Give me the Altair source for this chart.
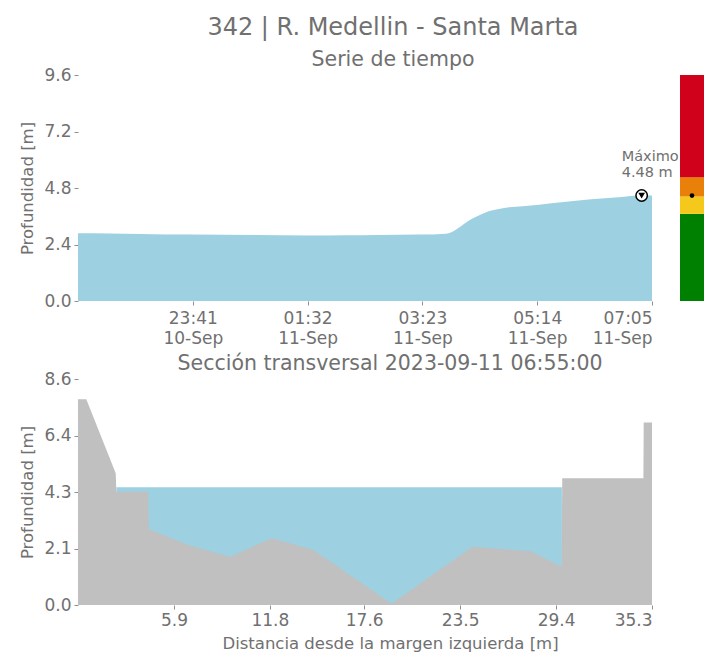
import altair as alt
import pandas as pd

# ---------------- data ----------------
MAIN_TITLE = "342 | R. Medellin - Santa Marta"
TS_TITLE = "Serie de tiempo"
XS_TITLE = "Sección transversal 2023-09-11 06:55:00"

ts_time = [
    "2023-09-10T21:50:00Z", "2023-09-10T22:20:00Z", "2023-09-10T22:50:00Z",
    "2023-09-10T23:40:00Z", "2023-09-11T00:40:00Z", "2023-09-11T01:33:00Z",
    "2023-09-11T02:10:00Z", "2023-09-11T02:41:00Z", "2023-09-11T03:20:00Z",
    "2023-09-11T03:46:00Z", "2023-09-11T03:51:00Z", "2023-09-11T03:56:00Z",
    "2023-09-11T04:01:00Z", "2023-09-11T04:06:00Z", "2023-09-11T04:11:00Z",
    "2023-09-11T04:19:00Z", "2023-09-11T04:27:00Z", "2023-09-11T04:37:00Z",
    "2023-09-11T04:47:00Z", "2023-09-11T05:00:00Z", "2023-09-11T05:16:00Z",
    "2023-09-11T05:35:00Z", "2023-09-11T05:54:00Z", "2023-09-11T06:13:00Z",
    "2023-09-11T06:33:00Z", "2023-09-11T06:55:00Z", "2023-09-11T07:05:00Z",
]
ts_depth = [
    2.88, 2.87, 2.85, 2.82, 2.80, 2.78, 2.79, 2.80, 2.82,
    2.86, 2.92, 3.05, 3.20, 3.36, 3.49, 3.66, 3.81, 3.91,
    3.98, 4.03, 4.09, 4.18, 4.27, 4.34, 4.41, 4.48, 4.48,
]

max_time = ["2023-09-11T06:55:00Z"]
max_value = [4.48]
max_label = ["Máximo\n4.48 m"]

level_names = ["verde", "amarillo", "naranja", "rojo"]
level_low = [0.0, 3.70, 4.44, 5.26]
level_high = [3.70, 4.44, 5.26, 9.6]
level_colors = ["#008000", "#f5c91c", "#e8800a", "#d0011b"]
current_level = [4.48]

terrain_dist = [0.0, 0.51, 2.32, 2.36, 4.32, 4.36, 6.78, 9.35, 11.92, 14.49,
                19.28, 24.25, 27.85, 29.74, 29.78, 34.77, 34.79, 35.3]
terrain_z = [7.83, 7.83, 5.01, 4.31, 4.31, 2.88, 2.28, 1.84, 2.54, 2.09,
             0.05, 2.22, 2.05, 1.46, 4.82, 4.82, 6.94, 6.94]
water_dist = [2.36, 29.76]
water_z = [4.48, 4.48]

ts_ticks = [(2023, 9, 10, 23, 41), (2023, 9, 11, 1, 32), (2023, 9, 11, 3, 23),
            (2023, 9, 11, 5, 14), (2023, 9, 11, 7, 5)]
ts_domain = [(2023, 9, 10, 21, 50), (2023, 9, 11, 7, 5)]
ts_yticks = [0.0, 2.4, 4.8, 7.2, 9.6]
xs_xticks = [5.9, 11.8, 17.6, 23.5, 29.4, 35.3]
xs_yticks = [0.0, 2.15, 4.3, 6.45, 8.6]

# ---------------- style ----------------
FONT = "DejaVu Sans"
TXT = "#707070"
BLUE = "#9dd0e0"
GRAY = "#c0c0c0"
W, H = 574, 226


def dt(t):
    return alt.DateTime(year=t[0], month=t[1], date=t[2], hours=t[3], minutes=t[4], utc=True)


ts_df = pd.DataFrame({"t": ts_time, "d": ts_depth})
max_df = pd.DataFrame({"t": max_time, "d": max_value, "lab": max_label})
lvl_df = pd.DataFrame({"nivel": level_names, "lo": level_low, "hi": level_high, "st": "s"})
cur_df = pd.DataFrame({"d": current_level, "st": "s"})
ter_df = pd.DataFrame({"x": terrain_dist, "z": terrain_z})
wat_df = pd.DataFrame({"x": water_dist, "z": water_z})

x_ts = alt.X(
    "t:T",
    scale=alt.Scale(type="utc", domain=[dt(v) for v in ts_domain], nice=False),
    axis=alt.Axis(
        values=[dt(v) for v in ts_ticks],
        labelExpr="[utcFormat(datum.value, '%H:%M'), utcFormat(datum.value, '%d-%b')]",
        title=None,
        labelLineHeight=20,
        labelPadding=5,
    ),
)
y_ts = alt.Y(
    "d:Q",
    scale=alt.Scale(domain=[0, 9.6], nice=False),
    axis=alt.Axis(values=ts_yticks, format=".1f", title="Profundidad [m]"),
)

ts_area = alt.Chart(ts_df).mark_area(color=BLUE, interpolate="monotone").encode(x=x_ts, y=y_ts)
ts_circ = alt.Chart(max_df).mark_point(
    shape="circle", filled=True, fill="white", stroke="black", strokeWidth=1.5,
    size=130, opacity=1,
).encode(x="t:T", y="d:Q")
ts_tri = alt.Chart(max_df).mark_point(
    shape="triangle-down", filled=True, color="black", size=45, opacity=1
).encode(x="t:T", y="d:Q")
ts_txt = alt.Chart(max_df).mark_text(
    align="left", baseline="bottom", dx=-20, dy=-32, fontSize=14.5, color=TXT,
    lineBreak="\n", lineHeight=16, font=FONT,
).encode(x="t:T", y="d:Q", text="lab:N")

ts_chart = alt.layer(ts_area, ts_circ, ts_tri, ts_txt).properties(width=W, height=H)

bar_rect = alt.Chart(lvl_df).mark_rect().encode(
    x=alt.X("st:N", axis=None, scale=alt.Scale(paddingInner=0, paddingOuter=0)),
    y=alt.Y("lo:Q", axis=None, scale=alt.Scale(domain=[0, 9.6], nice=False)),
    y2="hi:Q",
    color=alt.Color("nivel:N", scale=alt.Scale(domain=level_names, range=level_colors), legend=None),
)
bar_dot = alt.Chart(cur_df).mark_point(filled=True, color="black", size=22, opacity=1).encode(
    x=alt.X("st:N", axis=None),
    y=alt.Y("d:Q", axis=None),
)
bar_chart = alt.layer(bar_rect, bar_dot).properties(width=24, height=H)

x_xs = alt.X(
    "x:Q",
    scale=alt.Scale(domain=[0, 35.3], nice=False, zero=False),
    axis=alt.Axis(values=xs_xticks, format=".1f",
                  title="Distancia desde la margen izquierda [m]", titleX=312,
                  titlePadding=7),
)
y_xs = alt.Y(
    "z:Q",
    scale=alt.Scale(domain=[0, 8.6], nice=False),
    axis=alt.Axis(values=xs_yticks, labelExpr="format(floor(datum.value*10+0.001)/10, '.1f')",
                  title="Profundidad [m]"),
)
xs_water = alt.Chart(wat_df).mark_area(color=BLUE).encode(x=x_xs, y=y_xs)
xs_ter = alt.Chart(ter_df).mark_area(color=GRAY, opacity=1).encode(x=x_xs, y=y_xs)
xs_chart = alt.layer(xs_water, xs_ter).properties(
    width=W, height=H,
    title=alt.TitleParams(XS_TITLE, fontSize=20.5, dx=25, offset=-4, anchor="middle",
                          color=TXT, font=FONT, fontWeight="normal", frame="group"),
)

chart = alt.concat(
    ts_chart, bar_chart, xs_chart, columns=2,
    spacing={"row": 78, "column": 28}, bounds="flush",
).properties(
    padding={"left": 11, "top": 8, "right": 5, "bottom": 2},
    title=alt.TitleParams(
        MAIN_TITLE, subtitle=TS_TITLE, fontSize=24, subtitleFontSize=20.5,
        color=TXT, subtitleColor=TXT, font=FONT, subtitleFont=FONT,
        fontWeight="normal", anchor="middle", subtitlePadding=10, offset=-4.5, dx=31,
    ),
).configure_view(stroke=None).configure_axis(
    domain=False, grid=False, tickColor="#909090", tickSize=4, tickWidth=1,
    labelFontSize=17, labelColor=TXT, labelFont=FONT, labelPadding=3,
    titleFontSize=16.5, titleColor=TXT, titleFont=FONT, titleFontWeight="normal",
    titlePadding=8,
)

chart.save("out.html", embed_options={"renderer": "svg", "actions": False})
